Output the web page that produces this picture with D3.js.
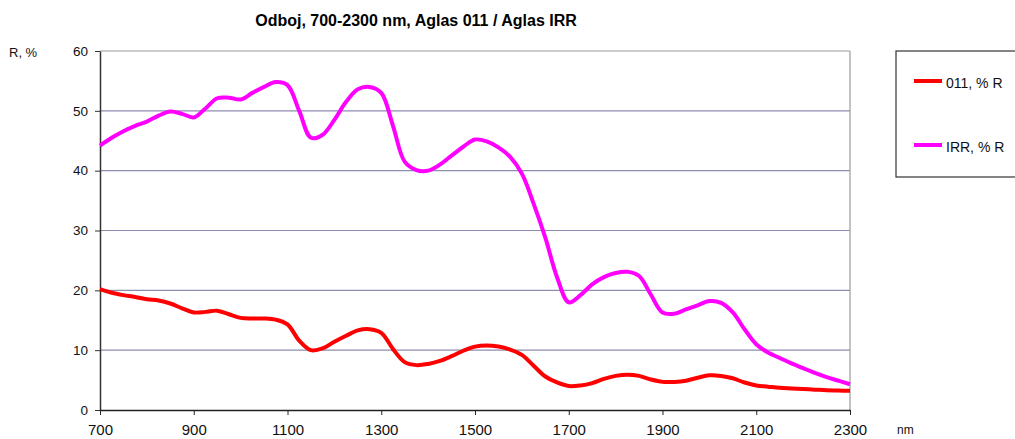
<!DOCTYPE html>
<html><head><meta charset="utf-8">
<script src="https://cdn.jsdelivr.net/npm/d3@7"></script>
<style>
body{margin:0;background:#fff;}
svg{font-family:"Liberation Sans",Arial,sans-serif;}
</style></head><body>
<svg id="c" width="1015" height="439"></svg>
<script>
const wavelengths = [700,725,750,775,800,825,850,875,900,925,950,975,1000,1025,1050,1075,1100,1125,1150,1175,1200,1225,1250,1275,1300,1325,1350,1375,1400,1425,1450,1475,1500,1525,1550,1575,1600,1625,1650,1675,1700,1725,1750,1775,1800,1825,1850,1875,1900,1925,1950,1975,2000,2025,2050,2075,2100,2125,2150,2175,2200,2225,2250,2275,2300];
const r011 = [20.2,19.6,19.2,18.9,18.5,18.3,17.8,17.0,16.3,16.4,16.6,16.0,15.4,15.3,15.3,15.1,14.3,11.6,10.0,10.3,11.4,12.4,13.3,13.5,12.9,10.2,8.0,7.5,7.7,8.2,9.0,9.9,10.6,10.8,10.6,10.1,9.2,7.4,5.6,4.6,4.0,4.1,4.5,5.2,5.7,5.9,5.7,5.1,4.7,4.7,4.9,5.4,5.8,5.7,5.3,4.6,4.1,3.9,3.7,3.6,3.5,3.4,3.3,3.25,3.2];
const rIRR = [44.2,45.5,46.6,47.5,48.2,49.2,49.9,49.5,48.9,50.4,52.1,52.2,51.9,53.0,54.0,54.8,54.3,50.0,45.5,46.0,48.5,51.5,53.6,54.0,53.0,47.5,41.5,40.1,40.0,41.0,42.5,44.0,45.2,44.9,43.9,42.3,39.5,34.5,28.8,22.2,18.0,19.2,21.0,22.2,22.9,23.1,22.4,19.3,16.3,16.1,16.8,17.5,18.2,17.9,16.3,13.5,11.0,9.6,8.7,7.8,7.0,6.2,5.5,4.9,4.3];
const xTicks = [700,900,1100,1300,1500,1700,1900,2100,2300];
const yTicks = [0,10,20,30,40,50,60];
const seriesNames = ["011, % R","IRR, % R"];
const seriesColors = ["#ff0000","#ff00ff"];
const title = "Odboj, 700-2300 nm, Aglas 011 / Aglas IRR";

const svg = d3.select("#c");
const L=100,R=850,T=51,B=410;
const x = d3.scaleLinear().domain([700,2300]).range([L,R]);
const y = d3.scaleLinear().domain([0,60]).range([B,T]);

// gridlines
svg.append("g").selectAll("line").data(yTicks.filter(d=>d>0)).join("line")
  .attr("x1",L).attr("x2",R).attr("y1",d=>y(d)).attr("y2",d=>y(d))
  .attr("stroke",d=>d===60?"#9a9a9a":"#8c8cb0").attr("stroke-width",1.2);
// right border
svg.append("line").attr("x1",R).attr("x2",R).attr("y1",T).attr("y2",B).attr("stroke","#9a9a9a").attr("stroke-width",1.2);

// axes
const yAxis = d3.axisLeft(y).tickValues(yTicks).tickSize(5).tickPadding(7).tickSizeOuter(0);
const gy = svg.append("g").attr("transform",`translate(${L},0)`).call(yAxis);
gy.select(".domain").attr("stroke","#333").attr("stroke-width",1.5);
gy.selectAll(".tick line").attr("stroke","#333");
gy.selectAll("text").attr("font-size",13.5).attr("fill","#111").attr("font-family","Liberation Sans, Arial, sans-serif");

const xAxis = d3.axisBottom(x).tickValues(xTicks).tickFormat(d3.format("d")).tickSize(5).tickPadding(9).tickSizeOuter(0);
const gx = svg.append("g").attr("transform",`translate(0,${B})`).call(xAxis);
gx.select(".domain").attr("stroke","#222").attr("stroke-width",1.5);
gx.selectAll(".tick line").attr("stroke","#222");
gx.selectAll("text").attr("font-size",15).attr("fill","#111").attr("font-family","Liberation Sans, Arial, sans-serif");

// lines
const line = d3.line().x((d,i)=>x(wavelengths[i])).y(d=>y(d)).curve(d3.curveCatmullRom.alpha(0.5));
[r011,rIRR].forEach((s,k)=>{
  svg.append("path").datum(s).attr("d",line).attr("fill","none")
    .attr("stroke",seriesColors[k]).attr("stroke-width",4).attr("stroke-linejoin","round");
});

// labels
svg.append("text").attr("x",416).attr("y",26).attr("text-anchor","middle")
  .attr("font-size",16).attr("font-weight","bold").attr("fill","#000").text(title);
svg.append("text").attr("x",9).attr("y",57).attr("font-size",13).attr("fill","#111").text("R, %");
svg.append("text").attr("x",897).attr("y",434).attr("font-size",12).attr("fill","#111").text("nm");

// legend
svg.append("rect").attr("x",896).attr("y",51).attr("width",130).attr("height",126)
  .attr("fill","#fff").attr("stroke","#333").attr("stroke-width",1.2);
const ly=[81,145];
seriesNames.forEach((n,k)=>{
  svg.append("line").attr("x1",914).attr("x2",942).attr("y1",ly[k]).attr("y2",ly[k])
    .attr("stroke",seriesColors[k]).attr("stroke-width",4);
  svg.append("text").attr("x",946).attr("y",ly[k]+7).attr("font-size",14).attr("fill","#111").text(n);
});
</script>
</body></html>
